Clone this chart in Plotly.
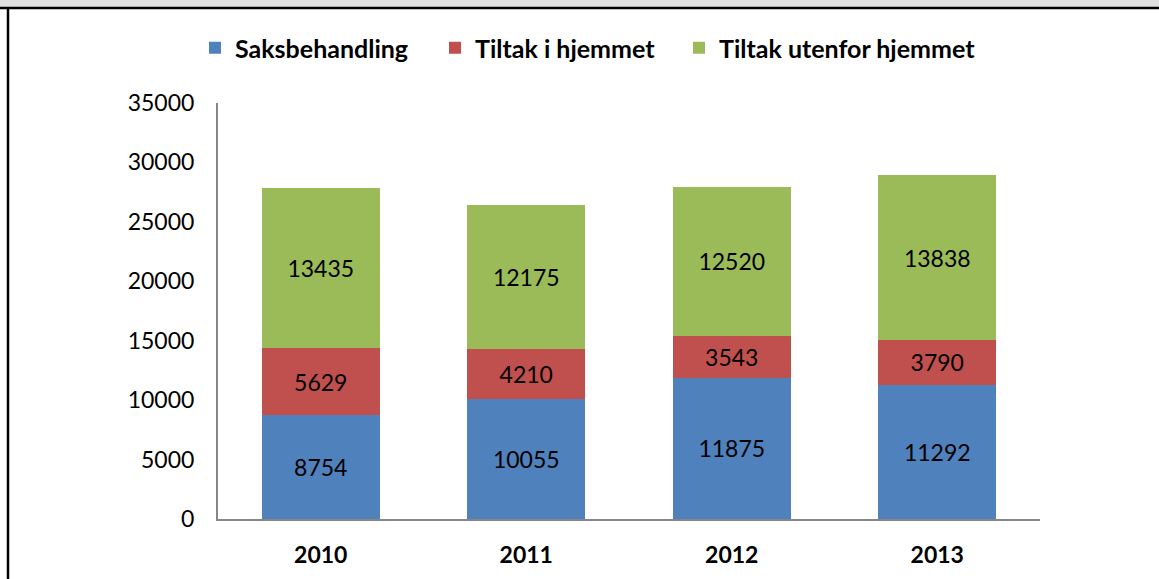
import plotly.graph_objects as go

years = ["2010", "2011", "2012", "2013"]
saksbehandling = [8754, 10055, 11875, 11292]
tiltak_i_hjemmet = [5629, 4210, 3543, 3790]
tiltak_utenfor = [13435, 12175, 12520, 13838]
series_names = ["Saksbehandling", "Tiltak i hjemmet", "Tiltak utenfor hjemmet"]
colors = ["#4F81BD", "#C0504D", "#9BBB59"]

W, H = 1159, 579
L, R, T, B = 218, 119, 103, 60
PW, PH = W - L - R, H - T - B

def px(x):
    return (x - L) / PW

def py(y):
    return (H - B - y) / PH

FONT = "Lato"
legend_ids = ["legend", "legend2", "legend3"]
legend_x = [195, 435, 679]

fig = go.Figure()
for name, vals, col, lid in zip(series_names, [saksbehandling, tiltak_i_hjemmet, tiltak_utenfor], colors, legend_ids):
    fig.add_trace(go.Bar(
        x=years, y=vals, name=name, marker=dict(color=col, line=dict(width=0)),
        text=[str(v) for v in vals], textposition="inside", insidetextanchor="middle",
        textfont=dict(family=FONT, size=23, color="black"), textangle=0,
        constraintext="none", legend=lid, showlegend=True,
    ))

legend_common = dict(orientation="h", xanchor="left", yanchor="middle", y=py(48),
                     font=dict(family=FONT, size=25, color="black", weight="bold"),
                     bgcolor="rgba(0,0,0,0)")
layout_legends = {lid: dict(legend_common, x=px(lx)) for lid, lx in zip(legend_ids, legend_x)}

fig.update_layout(
    width=W, height=H, barmode="stack", bargap=0.426, showlegend=True,
    margin=dict(l=L, r=R, t=T, b=B),
    paper_bgcolor="white", plot_bgcolor="white",
    font=dict(family=FONT, size=23, color="black"),
    xaxis=dict(showline=True, linecolor="#868686", linewidth=2, ticks="",
               tickfont=dict(family=FONT, size=23, color="black", weight="bold"),
               ticklabelstandoff=14, showgrid=False),
    yaxis=dict(range=[0, 35000], dtick=5000, tickformat="d", showline=True,
               linecolor="#868686", linewidth=2, ticks="", showgrid=False,
               zeroline=False, ticklabelstandoff=17,
               tickfont=dict(family=FONT, size=23, color="black")),
    shapes=[
        dict(type="rect", xref="paper", yref="paper", x0=px(0), x1=px(W), y0=py(0), y1=py(7),
             fillcolor="#E0E0E0", line=dict(width=0), layer="above"),
        dict(type="line", xref="paper", yref="paper", x0=px(0), x1=px(W), y0=py(8), y1=py(8),
             line=dict(color="black", width=2.5), layer="above"),
        dict(type="line", xref="paper", yref="paper", x0=px(8), x1=px(8), y0=py(8), y1=py(H + 5),
             line=dict(color="black", width=2.5), layer="above"),
    ],
    **layout_legends,
)
fig.write_html("out.html", config={"displayModeBar": False},
               post_script="document.body.style.margin='0';document.body.style.overflow='hidden';")
